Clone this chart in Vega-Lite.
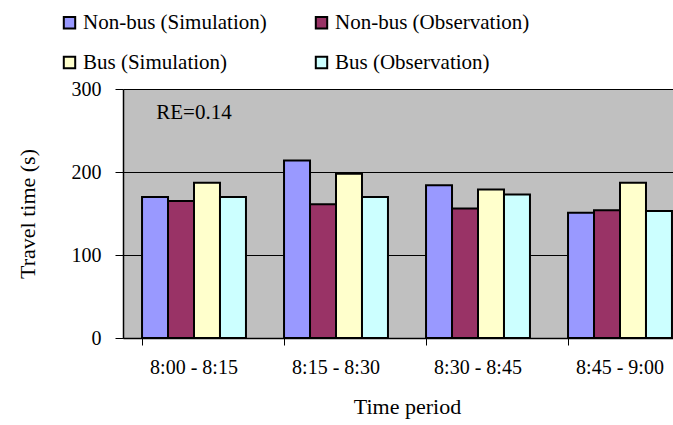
{
  "$schema": "https://vega.github.io/schema/vega-lite/v6.json",
  "autosize": "none",
  "padding": {"left": 123, "top": 89, "right": 0, "bottom": 87},
  "width": 568,
  "height": 249,
  "background": "white",
  "config": {
    "font": "Liberation Serif",
    "view": {"fill": "#C0C0C0", "stroke": null}
  },
  "datasets": {
    "bars": [
      {"period": "8:00 - 8:15", "series": "Non-bus (Simulation)", "time": 170},
      {"period": "8:00 - 8:15", "series": "Non-bus (Observation)", "time": 165},
      {"period": "8:00 - 8:15", "series": "Bus (Simulation)", "time": 187},
      {"period": "8:00 - 8:15", "series": "Bus (Observation)", "time": 170},
      {"period": "8:15 - 8:30", "series": "Non-bus (Simulation)", "time": 214},
      {"period": "8:15 - 8:30", "series": "Non-bus (Observation)", "time": 161},
      {"period": "8:15 - 8:30", "series": "Bus (Simulation)", "time": 198},
      {"period": "8:15 - 8:30", "series": "Bus (Observation)", "time": 170},
      {"period": "8:30 - 8:45", "series": "Non-bus (Simulation)", "time": 184},
      {"period": "8:30 - 8:45", "series": "Non-bus (Observation)", "time": 156},
      {"period": "8:30 - 8:45", "series": "Bus (Simulation)", "time": 179},
      {"period": "8:30 - 8:45", "series": "Bus (Observation)", "time": 173},
      {"period": "8:45 - 9:00", "series": "Non-bus (Simulation)", "time": 151},
      {"period": "8:45 - 9:00", "series": "Non-bus (Observation)", "time": 154},
      {"period": "8:45 - 9:00", "series": "Bus (Simulation)", "time": 187},
      {"period": "8:45 - 9:00", "series": "Bus (Observation)", "time": 153}
    ],
    "note": [{"period": "8:00 - 8:15", "time": 271, "label": "RE=0.14"}]
  },
  "layer": [
    {
      "data": {"name": "bars"},
      "mark": {"type": "bar", "stroke": "black", "strokeWidth": 2, "cornerRadius": 0},
      "encoding": {
        "x": {
          "field": "period", "type": "nominal", "sort": null,
          "scale": {"paddingInner": 0.268, "paddingOuter": 0.134},
          "axis": {
            "title": "Time period", "titleFontSize": 22, "titleFontWeight": "normal", "titleColor": "black",
            "titlePadding": 19,
            "labelAngle": 0, "labelFontSize": 20, "labelColor": "black", "labelPadding": 12,
            "bandPosition": 0, "tickSize": 7, "tickColor": "black", "domainColor": "black", "domainWidth": 1.5,
            "grid": false
          }
        },
        "xOffset": {"field": "series", "type": "nominal", "sort": null, "scale": {"paddingInner": 0, "paddingOuter": 0}},
        "y": {
          "field": "time", "type": "quantitative",
          "scale": {"domain": [0, 300], "nice": false},
          "axis": {
            "title": "Travel time (s)", "titleFontSize": 22, "titleFontWeight": "normal", "titleColor": "black",
            "titlePadding": 32,
            "values": [0, 100, 200, 300], "labelFontSize": 20, "labelColor": "black", "labelPadding": 14,
            "tickSize": 8, "tickColor": "black", "domainColor": "black", "domainWidth": 1.5,
            "grid": true, "gridColor": "black", "gridWidth": 1.2, "gridOpacity": 1
          }
        },
        "fill": {
          "field": "series", "type": "nominal", "sort": null,
          "scale": {
            "domain": ["Non-bus (Simulation)", "Non-bus (Observation)", "Bus (Simulation)", "Bus (Observation)"],
            "range": ["#9999FF", "#993366", "#FFFFCC", "#CCFFFF"]
          },
          "legend": {
            "title": null, "orient": "none", "legendX": -64, "legendY": -77,
            "direction": "horizontal", "columns": 2, "columnPadding": 44, "rowPadding": 18,
            "symbolType": "square", "symbolSize": 130, "symbolStrokeColor": "black", "symbolStrokeWidth": 2,
            "labelFontSize": 21, "labelColor": "black", "labelOffset": 3, "labelLimit": 300
          }
        }
      }
    },
    {
      "data": {"name": "note"},
      "mark": {"type": "text", "fontSize": 21, "color": "black"},
      "encoding": {
        "x": {"field": "period", "type": "nominal"},
        "y": {"field": "time", "type": "quantitative"},
        "text": {"field": "label"}
      }
    }
  ]
}
